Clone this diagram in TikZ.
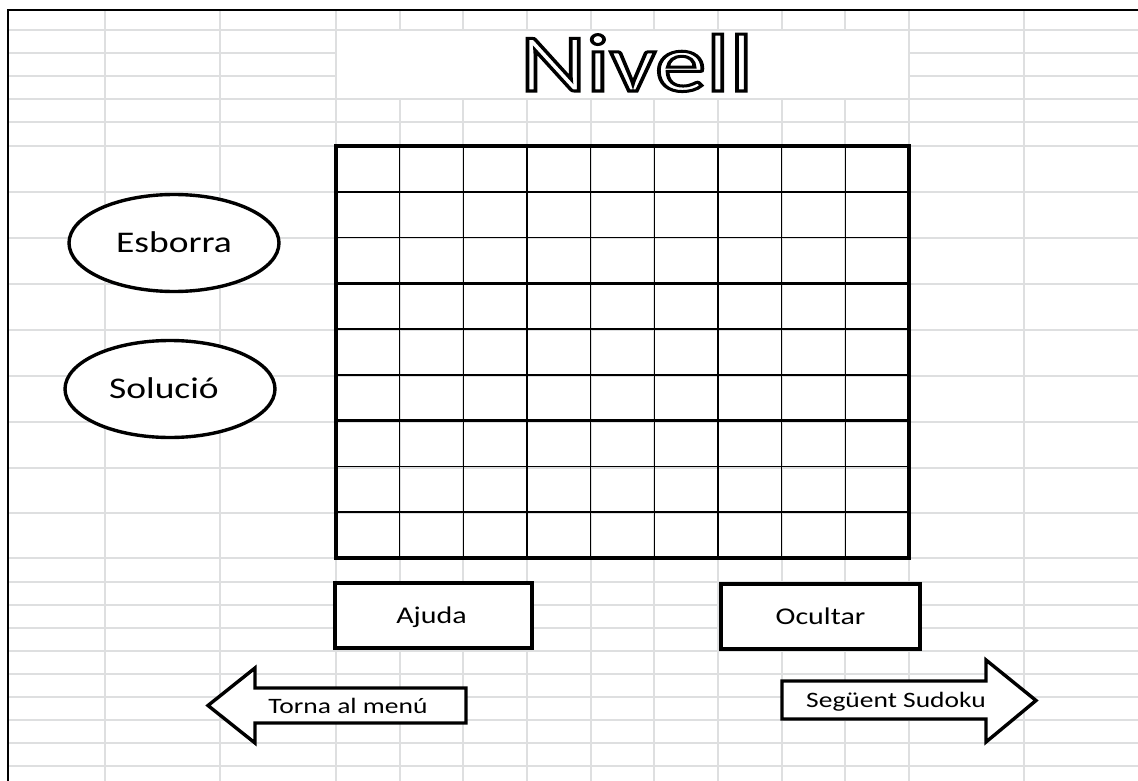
\documentclass[tikz,border=0pt]{standalone}
\usepackage{fontspec}
\setmainfont{Carlito}
\usepackage{graphicx}
\usetikzlibrary{shapes.geometric}
\definecolor{gridgrey}{HTML}{DEDFE0}
\newcommand\wtxt[1]{\scalebox{1.25}[1]{#1}}
\newcommand\outlinetext[1]{\special{pdf:literal direct 1 Tr 3.0 w}#1\special{pdf:literal direct 0 Tr}}
\begin{document}
\begin{tikzpicture}[x=1pt,y=-1pt,
  bgline/.style={draw=gridgrey, line width=1.3pt},
  frameline/.style={draw=black, line width=2.8pt},
  oval/.style={ellipse, draw, line width=3.4pt, fill=white, inner sep=0pt,
     minimum width=210pt, minimum height=97pt, font=\fontsize{30}{36}\selectfont,
     text height=19pt, text depth=0pt},
  btnbox/.style={rectangle, draw, line width=3.6pt, fill=white, inner sep=0pt,
     minimum width=197pt, minimum height=65pt, font=\fontsize{24}{29}\selectfont,
     text height=15.5pt, text depth=0pt},
  arrowshape/.style={draw, line width=3.4pt, fill=white, line join=miter},
  arrowtext/.style={font=\fontsize{22}{26}\selectfont, anchor=base},
  thinl/.style={line width=1.5pt},
  boxl/.style={line width=2.5pt},
  outerl/.style={line width=3.2pt}
]
\useasboundingbox (0,0) rectangle (1138,781);
\fill[white] (0,0) rectangle (1138,781);
% spreadsheet grid
\foreach \xx in {105,220,336,400,463,527,591,654,718,782,845,909,1024}
  \draw[bgline] (\xx,10) -- (\xx,781);
\foreach \yy in {30,53,76,99,122,146,192,238,284,330,376,422,468,513,558,582,605,628,651,674,697,720,743,766}
  \draw[bgline] (8,\yy) -- (1138,\yy);
% merged title cell
\fill[white] (337,31) rectangle (908,98);
% frame
\draw[frameline] (8,781) -- (8,10) -- (1138,10);
% title
\node[anchor=base] (title) at (636.5,91)
  {\fontsize{82}{90}\selectfont\wtxt{\outlinetext{Nivell}}};
% sudoku grid
\foreach \i in {1,2,4,5,7,8}
  \draw[thinl] ({336+\i*63.667},146) -- ({336+\i*63.667},558);
\foreach \i in {1,2,4,5,7,8}
  \draw[thinl] (336,{146+\i*45.778}) -- (909,{146+\i*45.778});
\foreach \i in {3,6}
  \draw[boxl] ({336+\i*63.667},146) -- ({336+\i*63.667},558);
\foreach \i in {3,6}
  \draw[boxl] (336,{146+\i*45.778}) -- (909,{146+\i*45.778});
\draw[outerl] (336,146) rectangle (909,558);
% ellipses
\node[oval] (esborra) at (174,243) {\wtxt{Esborra}};
\node[oval] (solucio) at (170,389) {\wtxt{Solució}\hspace*{12pt}};
% buttons
\node[btnbox] (ajuda) at (433.5,615.5) {\wtxt{Ajuda}\hspace*{4pt}};
\node[btnbox, minimum width=199pt] (ocultar) at (820.5,616.5) {\wtxt{Ocultar}};
% arrows
\draw[arrowshape] (208,705.5) -- (255,668) -- (255,688) -- (466,688) -- (466,723) -- (255,723) -- (255,743) -- cycle;
\node[arrowtext] (torna) at (348,713) {\wtxt{Torna al menú}};
\draw[arrowshape] (1036,700.5) -- (986,742) -- (986,719) -- (782,719) -- (782,681) -- (986,681) -- (986,660) -- cycle;
\node[arrowtext] (seguent) at (896,707) {\wtxt{Següent Sudoku}};
\end{tikzpicture}
\end{document}
